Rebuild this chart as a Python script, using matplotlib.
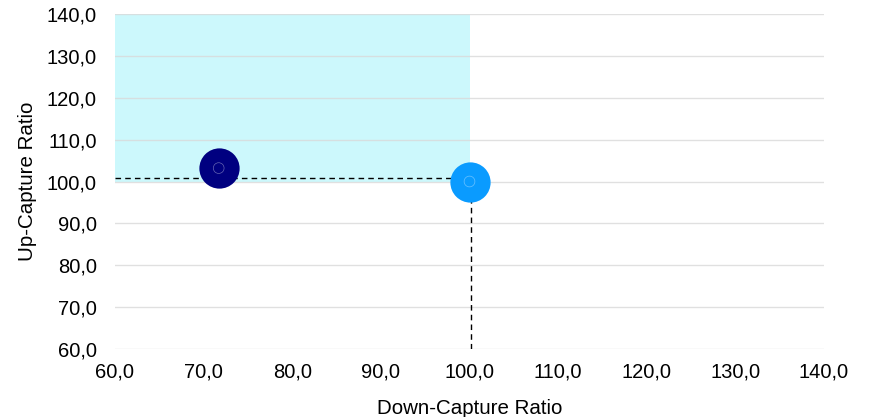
import matplotlib
matplotlib.use("Agg")
import matplotlib.pyplot as plt
from matplotlib.ticker import FuncFormatter

plt.rcParams['font.family'] = ['Liberation Sans', 'DejaVu Sans']

down_capture = [71.7, 100.0]
up_capture = [103.2, 100.0]
colors = ['#000080', '#0A9BFF']
benchmark_x = 100.2
benchmark_y = 100.9
ticks = [60, 70, 80, 90, 100, 110, 120, 130, 140]

fig = plt.figure(figsize=(8.69, 4.17), dpi=100)
L, R, T, B = 115, 824, 14, 349
ax = fig.add_axes([L/869, 1-B/417, (R-L)/869, (B-T)/417])
ax.set_xlim(60, 140)
ax.set_ylim(60, 140)

ax.fill_between([60, 100], 100, 140, color='#CCF8FC', zorder=0, linewidth=0)
for t in ticks:
    ax.axhline(t, color='#D9D9D9', lw=1, zorder=0.5, alpha=0.8)

ax.plot([60, benchmark_x], [benchmark_y, benchmark_y], ls=(0, (4, 3)), color='black', lw=1, zorder=2)
ax.plot([benchmark_x, benchmark_x], [60, benchmark_y], ls=(0, (4, 3)), color='black', lw=1, zorder=2)

for x, y, c in zip(down_capture, up_capture, colors):
    ax.scatter([x], [y], s=840, color=c, zorder=3, linewidths=0)
    ax.scatter([x], [y], s=60, facecolors='none', edgecolors='#FFFFFF', linewidths=0.5, alpha=0.4, zorder=4)

ax.set_xticks(ticks)
ax.set_yticks(ticks)
fmt = FuncFormatter(lambda v, p: f"{v:.1f}".replace('.', ','))
ax.xaxis.set_major_formatter(fmt)
ax.yaxis.set_major_formatter(fmt)
ax.tick_params(axis='x', length=0, labelsize=14.5, colors='black', pad=10)
ax.tick_params(axis='y', length=0, labelsize=14.5, colors='black', pad=13)
for s in ax.spines.values():
    s.set_visible(False)

ax.set_xlabel('Down-Capture Ratio', fontsize=14.8, labelpad=12)
ax.set_ylabel('Up-Capture Ratio', fontsize=14.8, labelpad=7)

fig.savefig('out.png', dpi=100)
